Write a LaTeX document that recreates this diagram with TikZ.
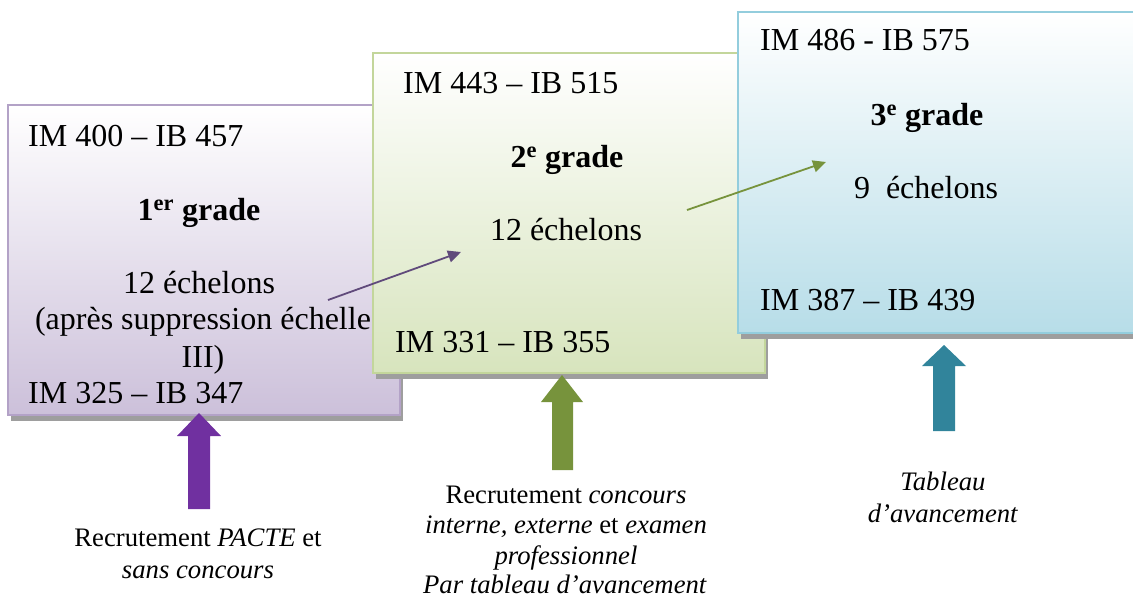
\documentclass[tikz,border=0pt]{standalone}
\usepackage{fontspec}
\setmainfont{Liberation Serif}
\usetikzlibrary{shadows,arrows.meta}
\definecolor{pBord}{HTML}{B3A2C7}
\definecolor{pFill}{HTML}{CCC0DA}
\definecolor{gBord}{HTML}{C3D69B}
\definecolor{gFill}{HTML}{D7E4BD}
\definecolor{bBord}{HTML}{93CDDD}
\definecolor{bFill}{HTML}{B7DDE8}
\definecolor{pArrow}{HTML}{7030A0}
\definecolor{gArrow}{HTML}{77933C}
\definecolor{tArrow}{HTML}{31849B}
\definecolor{pLine}{HTML}{604A7B}
\begin{document}
\begin{tikzpicture}[x=1pt,y=-1pt,
  gradebox/.style={rectangle, draw=#1Bord, line width=1.6pt, top color=white, bottom color=#1Fill,
     drop shadow={shadow xshift=3pt,shadow yshift=-6pt,fill=black!38,opacity=1}, inner sep=0pt},
  boxtext/.style={font=\fontsize{32}{37}\selectfont, inner sep=0pt},
  btext/.style={font=\fontsize{26.7}{31}\selectfont, inner sep=0pt, anchor=base},
  thinarrow/.style={line width=1.8pt, -{Triangle[length=13pt,width=12pt]}},
]
\useasboundingbox (0,0) rectangle (1133,598);

% boxes
\node[gradebox=p, minimum width=392pt, minimum height=310pt] (box1) at (204,260) {};
\node[gradebox=g, minimum width=392pt, minimum height=320pt] (box2) at (569,213) {};
\node[gradebox=b, minimum width=410pt, minimum height=321pt] (box3) at (943,172.5) {};

% box 1 texts
\node[boxtext, anchor=base west] (b1top) at (28,146) {IM 400 – IB 457};
\node[boxtext, anchor=base] (b1grade) at (199,220) {\textbf{1\textsuperscript{er} grade}};
\node[boxtext, anchor=base] (b1ech) at (199,293) {12 échelons};
\node[boxtext, anchor=base] (b1sup) at (203,329) {(après suppression échelle};
\node[boxtext, anchor=base] (b1iii) at (203,367) {III)};
\node[boxtext, anchor=base west] (b1bot) at (28,403) {IM 325 – IB 347};

% box 2 texts
\node[boxtext, anchor=base west] (b2top) at (403,93) {IM 443 – IB 515};
\node[boxtext, anchor=base] (b2grade) at (567,167) {\textbf{2\textsuperscript{e} grade}};
\node[boxtext, anchor=base] (b2ech) at (566,240) {12 échelons};
\node[boxtext, anchor=base west] (b2bot) at (395,352) {IM 331 – IB 355};

% box 3 texts
\node[boxtext, anchor=base west] (b3top) at (760,50) {IM 486 - IB 575};
\node[boxtext, anchor=base] (b3grade) at (927,125) {\textbf{3\textsuperscript{e} grade}};
\node[boxtext, anchor=base] (b3ech) at (926,198) {9\ \ échelons};
\node[boxtext, anchor=base west] (b3bot) at (760,310) {IM 387 – IB 439};

% thin arrows
\coordinate (a1s) at (328,300);
\coordinate (a1e) at (461,252);
\coordinate (a2s) at (687,210);
\coordinate (a2e) at (826,162);
\draw[thinarrow, pLine] (a1s) -- (a1e);
\draw[thinarrow, gArrow] (a2s) -- (a2e);

% block arrows
\fill[pArrow] (199,413) -- (221,436) -- (210,436) -- (210,509) -- (188,509) -- (188,436) -- (177,436) -- cycle;
\fill[gArrow] (562,375) -- (583,402) -- (573,402) -- (573,470) -- (552,470) -- (552,402) -- (541,402) -- cycle;
\fill[tArrow] (944,345) -- (966,366) -- (955,366) -- (955,431) -- (933,431) -- (933,366) -- (922,366) -- cycle;

% bottom texts
\node[btext] (p1) at (198,546) {Recrutement \textit{PACTE} et};
\node[btext] (p2) at (198,578) {\textit{sans concours}};
\node[btext] (g1) at (566,503) {Recrutement \textit{concours}};
\node[btext] (g2) at (566,533) {\textit{interne, externe} et \textit{examen}};
\node[btext] (g3) at (566,564) {\textit{professionnel}};
\node[btext] (g4) at (565,593) {\textit{Par tableau d’avancement}};
\node[btext] (t1) at (943,490) {\textit{Tableau}};
\node[btext] (t2) at (943,522) {\textit{d’avancement}};
\end{tikzpicture}
\end{document}
